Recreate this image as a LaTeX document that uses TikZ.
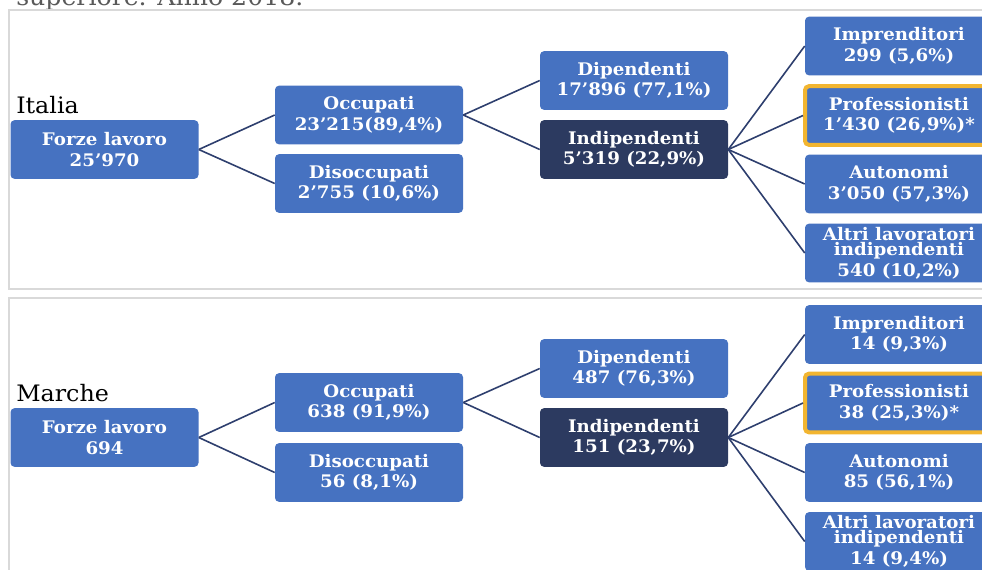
\documentclass[tikz,border=0pt]{standalone}
\usepackage{fontspec}
\setmainfont{DejaVu Serif}[FakeStretch=1.05]
\usepackage{xcolor}
\usepackage{tikz}
\usetikzlibrary{positioning}

\definecolor{boxblue}{HTML}{4672C1}
\definecolor{boxdark}{HTML}{2C3A60}
\definecolor{linknavy}{HTML}{2E3F6E}
\definecolor{highlight}{HTML}{F2B530}
\definecolor{framegray}{HTML}{D9D9D9}
\definecolor{captiongray}{HTML}{595959}

\begin{document}
\begin{tikzpicture}[
    x=0.75pt, y=-0.75pt,
    box/.style={rectangle, rounded corners=3pt, fill=boxblue, text=white, font=\fontsize{13}{15.5}\selectfont\bfseries, minimum width=141pt, minimum height=44pt, inner sep=0pt, align=center},
    darkbox/.style={box, fill=boxdark},
    starbox/.style={box, draw=highlight, line width=3pt},
    link/.style={draw=linknavy, line width=1.2pt},
    panel/.style={draw=framegray, line width=1.2pt},
    region/.style={anchor=base west, inner sep=0pt, font=\fontsize{17}{20}\selectfont},
    caption/.style={anchor=base west, inner sep=0pt, text=captiongray, font=\fontsize{18}{21}\selectfont}
]
\useasboundingbox (0,0) rectangle (982,569);
\clip (0,0) rectangle (982,569);

% Caption (cut off)
\node[caption] (cap) at (16,5) {superiore. Anno 2018.};

% Frames
\draw[panel] (9,10) rectangle (1010,289);
\draw[panel] (9,298) rectangle (1010,600);

% Italia
\node[region] (italia) at (16,113) {Italia};
\node[box] (forzeI) at (104.5,149.5) {Forze lavoro\\25'970};
\node[box] (occI) at (369,115) {Occupati\\23'215(89,4\%)};
\node[box] (disI) at (369,183.5) {Disoccupati\\2'755 (10,6\%)};
\node[box] (dipI) at (634,80.5) {Dipendenti\\17'896 (77,1\%)};
\node[darkbox] (indI) at (634,149.5) {Indipendenti\\5'319 (22,9\%)};
\node[box] (impI) at (899,46) {Imprenditori\\299 (5,6\%)};
\node[starbox] (proI) at (899,115.5) {Professionisti\\1'430 (26,9\%)*};
\node[box] (autI) at (899,184) {Autonomi\\3'050 (57,3\%)};
\node[box] (altI) at (899,253) {Altri lavoratori\\[-4pt]indipendenti\\540 (10,2\%)};

\draw[link] (forzeI.east) -- (occI.west);
\draw[link] (forzeI.east) -- (disI.west);
\draw[link] (occI.east) -- (dipI.west);
\draw[link] (occI.east) -- (indI.west);
\draw[link] (indI.east) -- (impI.west);
\draw[link] (indI.east) -- (proI.west);
\draw[link] (indI.east) -- (autI.west);
\draw[link] (indI.east) -- (altI.west);

% Marche
\node[region] (marche) at (16,401) {Marche};
\node[box] (forzeM) at (104.5,437.5) {Forze lavoro\\694};
\node[box] (occM) at (369,402.5) {Occupati\\638 (91,9\%)};
\node[box] (disM) at (369,472.5) {Disoccupati\\56 (8,1\%)};
\node[box] (dipM) at (634,368.5) {Dipendenti\\487 (76,3\%)};
\node[darkbox] (indM) at (634,437.5) {Indipendenti\\151 (23,7\%)};
\node[box] (impM) at (899,334.5) {Imprenditori\\14 (9,3\%)};
\node[starbox] (proM) at (899,403) {Professionisti\\38 (25,3\%)*};
\node[box] (autM) at (899,472.5) {Autonomi\\85 (56,1\%)};
\node[box] (altM) at (899,541.5) {Altri lavoratori\\[-4pt]indipendenti\\14 (9,4\%)};

\draw[link] (forzeM.east) -- (occM.west);
\draw[link] (forzeM.east) -- (disM.west);
\draw[link] (occM.east) -- (dipM.west);
\draw[link] (occM.east) -- (indM.west);
\draw[link] (indM.east) -- (impM.west);
\draw[link] (indM.east) -- (proM.west);
\draw[link] (indM.east) -- (autM.west);
\draw[link] (indM.east) -- (altM.west);

\end{tikzpicture}
\end{document}
